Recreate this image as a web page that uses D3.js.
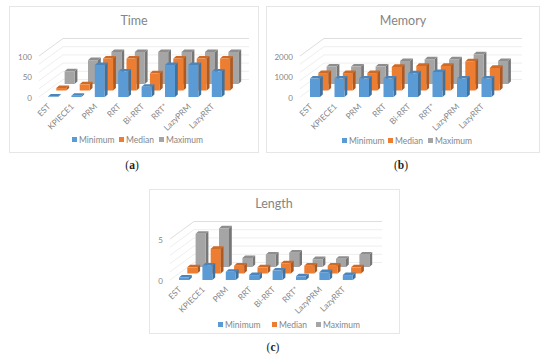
<!DOCTYPE html>
<html>
<head>
<meta charset="utf-8">
<script src="https://cdn.jsdelivr.net/npm/d3@7"></script>
<style>
  html, body { margin: 0; padding: 0; background: #fff; }
  svg { display: block; }
  text { font-family: Lato, "Open Sans", sans-serif; fill: #858585; }
</style>
</head>
<body>
<div id="chart"></div>
<script>
const categories = ["EST", "KPIECE1", "PRM", "RRT", "Bi-RRT", "RRT*", "LazyPRM", "LazyRRT"];
const seriesNames = ["Minimum", "Median", "Maximum"];

const timeMin = [1, 3, 78, 62, 25, 78, 78, 62];
const timeMed = [6, 15, 78, 78, 42, 78, 78, 78];
const timeMax = [31, 58, 78, 78, 78, 78, 78, 78];
const timeTicks = [0, 50, 100];

const memoryMin = [900, 900, 900, 900, 1150, 1220, 900, 900];
const memoryMed = [850, 850, 850, 1150, 1200, 1200, 1420, 1100];
const memoryMax = [850, 850, 850, 1120, 1200, 1200, 1450, 1120];
const memoryTicks = [0, 1000, 2000];

const lengthMin = [0.3, 1.75, 1, 0.6, 1.15, 0.45, 0.95, 0.6];
const lengthMed = [0.75, 3, 0.95, 0.75, 1.25, 0.95, 0.95, 0.75];
const lengthMax = [4.05, 4.7, 1.1, 1.5, 1.75, 0.95, 1, 1.5];
const lengthTicks = [0, 5];

const width = 550;
const height = 358;

// front, top and side colour of each series
const faceColor = ["#5b9bd5", "#ed7d31", "#a5a5a5"];
const topColor = ["#4a86bd", "#cf6a26", "#8e8e8e"];
const sideColor = ["#3f729f", "#ad5a22", "#777777"];

// one step back in depth per series, and the depth of a single bar
const stepX = 8.3, stepY = -6.5;
const barX = 2.8, barY = -2.6;
const wallX = 24, wallY = -17.5;

const svg = d3.select("div#chart").append("svg").attr("width", width).attr("height", height);

function drawPanel(p) {
    const g = svg.append("g");

    g.append("rect")
        .attr("x", p.box[0] + 0.5).attr("y", p.box[1] + 0.5)
        .attr("width", p.box[2]).attr("height", p.box[3])
        .attr("fill", "#fff").attr("stroke", "#e6e6e6");

    g.append("text")
        .attr("x", p.titleX).attr("y", p.box[1] + 19)
        .attr("text-anchor", "middle")
        .attr("font-size", 12.5)
        .text(p.title);

    // escalas
    const x = d3.scaleBand().domain(categories)
        .range([p.firstBar, p.firstBar + 7 * p.step + 10])
        .paddingInner(1 - 10 / p.step);
    const y = d3.scaleLinear().domain([0, p.maxValue]).range([p.floorY, p.floorY - 41]);

    // paredes: rejilla izquierda y del fondo
    const gridValues = d3.range(0, p.maxValue + p.maxValue / 10, p.maxValue / 5);
    gridValues.forEach((v, i) => {
        const color = i === 5 ? "#dedede" : "#eeeeee";
        g.append("polyline")
            .attr("points", [
                [p.cornerX, y(v)],
                [p.cornerX + wallX, y(v) + wallY],
                [p.wallEnd, y(v) + wallY]
            ].join(" "))
            .attr("fill", "none")
            .attr("stroke", color);
    });

    // etiquetas del eje
    g.selectAll(".tick").data(p.ticks).enter().append("text")
        .attr("x", p.cornerX - 7)
        .attr("y", d => y(d) + 3.5)
        .attr("text-anchor", "end")
        .attr("font-size", 8)
        .text(d => d);

    // barras, de atrás hacia adelante
    [2, 1, 0].forEach(s => {
        const ox = s * stepX, oy = s * stepY;
        categories.forEach((c, i) => {
            const x0 = x(c) + ox;
            const x1 = x0 + x.bandwidth();
            const base = y(0) + oy;
            const top = y(p.values[s][i]) + oy;
            g.append("polygon")
                .attr("points", [[x1, base], [x1, top], [x1 + barX, top + barY], [x1 + barX, base + barY]].join(" "))
                .attr("fill", sideColor[s]);
            g.append("polygon")
                .attr("points", [[x0, top], [x1, top], [x1 + barX, top + barY], [x0 + barX, top + barY]].join(" "))
                .attr("fill", topColor[s]);
            g.append("rect")
                .attr("x", x0).attr("y", top)
                .attr("width", x.bandwidth()).attr("height", base - top)
                .attr("fill", faceColor[s]);
        });
    });

    // categorías rotadas
    g.selectAll(".cat").data(categories).enter().append("text")
        .attr("transform", d => `translate(${x(d) + 3}, ${p.floorY + 10}) rotate(-45)`)
        .attr("text-anchor", "end")
        .attr("font-size", 8.3)
        .text(d => d);

    // leyenda
    seriesNames.forEach((name, s) => {
        g.append("rect")
            .attr("x", p.legendX[s]).attr("y", p.legendY - 3)
            .attr("width", 5).attr("height", 5)
            .attr("fill", faceColor[s]);
        g.append("text")
            .attr("x", p.legendX[s] + 7).attr("y", p.legendY + 2.8)
            .attr("font-size", 8.5)
            .text(name);
    });

    svg.append("text")
        .attr("x", p.captionX).attr("y", p.captionY)
        .attr("text-anchor", "middle")
        .style("font-family", '"Liberation Serif", serif')
        .style("fill", "#222")
        .attr("font-size", 11.5)
        .html(`(<tspan font-weight="bold">${p.caption}</tspan>)`);
}

drawPanel({
    title: "Time", caption: "a", box: [9, 6, 249, 146], titleX: 134,
    values: [timeMin, timeMed, timeMax], ticks: timeTicks, maxValue: 100,
    floorY: 97, cornerX: 39, wallEnd: 249, firstBar: 48, step: 23.4,
    legendX: [72, 119, 159], legendY: 140, captionX: 132, captionY: 169
});

drawPanel({
    title: "Memory", caption: "b", box: [266, 6, 273, 146], titleX: 403,
    values: [memoryMin, memoryMed, memoryMax], ticks: memoryTicks, maxValue: 2000,
    floorY: 97, cornerX: 300, wallEnd: 522, firstBar: 310, step: 24.5,
    legendX: [342, 388, 428], legendY: 141, captionX: 401, captionY: 169
});

drawPanel({
    title: "Length", caption: "c", box: [149, 189, 250, 144], titleX: 274,
    values: [lengthMin, lengthMed, lengthMax], ticks: lengthTicks, maxValue: 5,
    floorY: 280, cornerX: 170, wallEnd: 382, firstBar: 179, step: 23.4,
    legendX: [218, 272, 316], legendY: 325, captionX: 273, captionY: 351
});
</script>
</body>
</html>
